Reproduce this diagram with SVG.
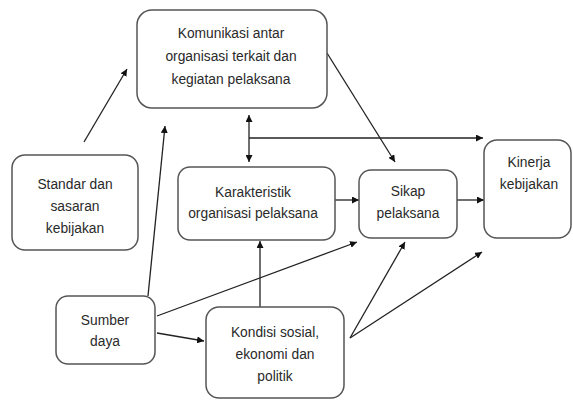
<svg xmlns="http://www.w3.org/2000/svg" width="573" height="402" viewBox="0 0 573 402">
<defs>
<marker id="ah" viewBox="0 0 10 10" refX="10" refY="5" markerWidth="7" markerHeight="7" markerUnits="userSpaceOnUse" orient="auto-start-reverse">
<path d="M0,0 L10,5 L0,10 z" fill="#111"/>
</marker>
<style>
.box{fill:#fff;stroke:#555;stroke-width:1.5}
.t{font-family:"Liberation Sans",Arial,sans-serif;font-size:13.8px;fill:#2a2a2a;text-anchor:middle}
.c{fill:none;stroke:#222;stroke-width:1.3}
.a{marker-end:url(#ah)}
</style>
</defs>
<rect width="573" height="402" fill="#fff"/>
<g id="connectors">
<line class="c a" x1="84" y1="142" x2="127" y2="69"/>
<line class="c a" x1="148" y1="296" x2="165" y2="126"/>
<line class="c" x1="249" y1="115" x2="249" y2="162" marker-start="url(#ah)" marker-end="url(#ah)"/>
<line class="c a" x1="249" y1="138" x2="483" y2="138"/>
<line class="c a" x1="327" y1="53" x2="395" y2="162"/>
<line class="c a" x1="335" y1="200" x2="359" y2="200"/>
<line class="c a" x1="457" y1="200" x2="484" y2="200"/>
<line class="c a" x1="260" y1="307" x2="260" y2="241"/>
<line class="c a" x1="157" y1="316" x2="357" y2="242"/>
<line class="c a" x1="157" y1="333" x2="204" y2="341"/>
<line class="c a" x1="350" y1="338" x2="405" y2="242"/>
<line class="c a" x1="350" y1="338" x2="482" y2="252"/>
</g>
<g id="komunikasi">
<rect class="box" x="137" y="10" width="190" height="98" rx="15"/>
<text class="t" x="231" y="38">Komunikasi antar</text>
<text class="t" x="231" y="61">organisasi terkait dan</text>
<text class="t" x="231" y="84">kegiatan pelaksana</text>
</g>
<g id="standar">
<rect class="box" x="12" y="155" width="126" height="95" rx="13"/>
<text class="t" x="75" y="189">Standar dan</text>
<text class="t" x="75" y="211">sasaran</text>
<text class="t" x="75" y="233">kebijakan</text>
</g>
<g id="karakteristik">
<rect class="box" x="178" y="167" width="157" height="73" rx="12"/>
<text class="t" x="253" y="197">Karakteristik</text>
<text class="t" x="253" y="218">organisasi pelaksana</text>
</g>
<g id="sikap">
<rect class="box" x="359" y="170" width="98" height="68" rx="12"/>
<text class="t" x="408" y="196">Sikap</text>
<text class="t" x="408" y="218">pelaksana</text>
</g>
<g id="kinerja">
<rect class="box" x="484" y="140" width="87" height="98" rx="13"/>
<text class="t" x="529" y="167">Kinerja</text>
<text class="t" x="529" y="189">kebijakan</text>
</g>
<g id="sumber">
<rect class="box" x="56" y="296" width="99" height="68" rx="12"/>
<text class="t" x="105" y="325">Sumber</text>
<text class="t" x="105" y="346">daya</text>
</g>
<g id="kondisi">
<rect class="box" x="206" y="307" width="138" height="91" rx="13"/>
<text class="t" x="275" y="337">Kondisi sosial,</text>
<text class="t" x="275" y="359">ekonomi dan</text>
<text class="t" x="275" y="381">politik</text>
</g>
</svg>
